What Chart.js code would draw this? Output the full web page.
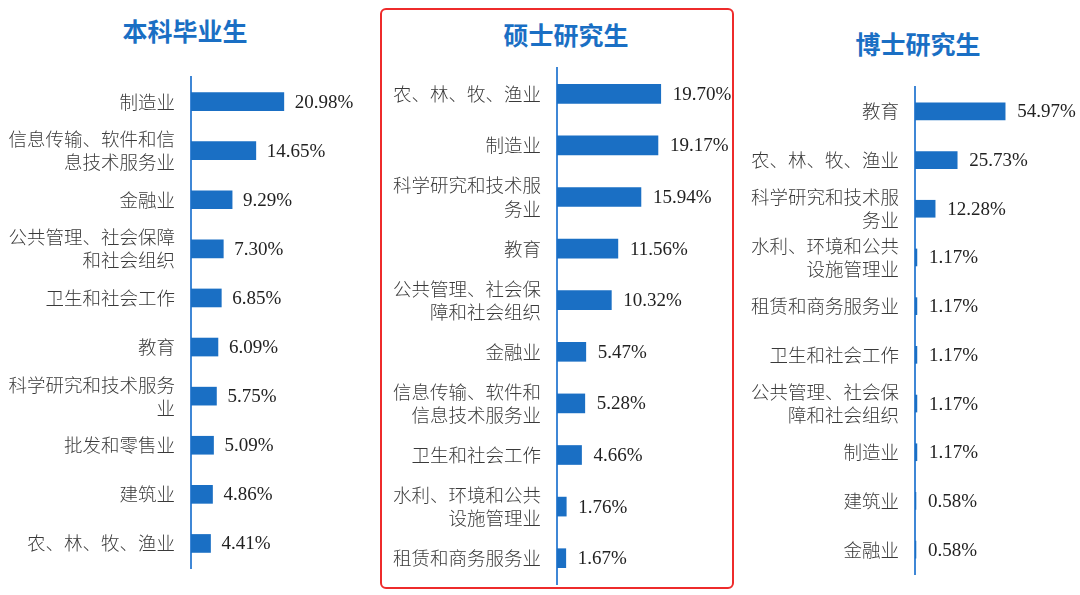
<!DOCTYPE html>
<html>
<head>
<meta charset="utf-8">
<script src="https://cdn.jsdelivr.net/npm/chart.js@4"></script>
<style>
    body { margin: 0; background: #fff; width: 1080px; height: 595px; position: relative; overflow: hidden; }
    .panel { position: absolute; top: 0; height: 640px; }
    .title { position: absolute; width: 200px; margin-left: -100px; text-align: center;
             font: bold 25px "Noto Sans CJK SC", sans-serif; color: #1a6fc4; line-height: 30px; }
    .frame { position: absolute; left: 380px; top: 8px; width: 350px; height: 577px;
             border: 2px solid #ee2b2b; border-radius: 6px; }
</style>
</head>
<body>
<div class="frame"></div>
<div class="title" style="left:185px; top:15px;">本科毕业生</div>
<div class="title" style="left:566px; top:19px;">硕士研究生</div>
<div class="title" style="left:918px; top:28px;">博士研究生</div>
<div class="panel" style="left:0; width:370px;"><canvas id="bachelorChart"></canvas></div>
<div class="panel" style="left:383px; width:350px;"><canvas id="masterChart"></canvas></div>
<div class="panel" style="left:740px; width:340px;"><canvas id="doctorChart"></canvas></div>
<script>
// 本科毕业生
const bachelorLabels = [
    '制造业',
    ['信息传输、软件和信', '息技术服务业'],
    '金融业',
    ['公共管理、社会保障', '和社会组织'],
    '卫生和社会工作',
    '教育',
    ['科学研究和技术服务', '业'],
    '批发和零售业',
    '建筑业',
    '农、林、牧、渔业'
];
const bachelorValues = [20.98, 14.65, 9.29, 7.30, 6.85, 6.09, 5.75, 5.09, 4.86, 4.41];

// 硕士研究生
const masterLabels = [
    '农、林、牧、渔业',
    '制造业',
    ['科学研究和技术服', '务业'],
    '教育',
    ['公共管理、社会保', '障和社会组织'],
    '金融业',
    ['信息传输、软件和', '信息技术服务业'],
    '卫生和社会工作',
    ['水利、环境和公共', '设施管理业'],
    '租赁和商务服务业'
];
const masterValues = [19.70, 19.17, 15.94, 11.56, 10.32, 5.47, 5.28, 4.66, 1.76, 1.67];

// 博士研究生
const doctorLabels = [
    '教育',
    '农、林、牧、渔业',
    ['科学研究和技术服', '务业'],
    ['水利、环境和公共', '设施管理业'],
    '租赁和商务服务业',
    '卫生和社会工作',
    ['公共管理、社会保', '障和社会组织'],
    '制造业',
    '建筑业',
    '金融业'
];
const doctorValues = [54.97, 25.73, 12.28, 1.17, 1.17, 1.17, 1.17, 1.17, 0.58, 0.58];

const BAR_COLOR = '#1a6fc4';

// Draw "xx.xx%" right of each bar
const valueLabels = {
    id: 'valueLabels',
    afterDatasetsDraw(chart, args, pluginOpts) {
        const ctx = chart.ctx;
        const meta = chart.getDatasetMeta(0);
        const data = chart.data.datasets[0].data;
        ctx.save();
        ctx.font = '19px "Liberation Serif", "Times New Roman", serif';
        ctx.fillStyle = '#222';
        ctx.textAlign = 'left';
        ctx.textBaseline = 'middle';
        meta.data.forEach((bar, i) => {
            ctx.fillText(data[i].toFixed(2) + '%', bar.x + pluginOpts.offset, bar.y + 1);
        });
        ctx.restore();
    }
};

function makeChart(canvasId, labels, values, opts) {
    const ctx = document.getElementById(canvasId).getContext('2d');
    return new Chart(ctx, {
        type: 'bar',
        data: {
            labels: labels,
            datasets: [{
                data: values,
                backgroundColor: BAR_COLOR,
                barThickness: opts.barThickness
            }]
        },
        options: {
            indexAxis: 'y',
            responsive: true,
            maintainAspectRatio: false,
            animation: false,
            layout: {
                padding: { top: opts.top, bottom: 640 - opts.bottomY, left: 0, right: opts.right }
            },
            plugins: {
                legend: { display: false },
                tooltip: { enabled: false },
                valueLabels: { offset: opts.labelOffset }
            },
            scales: {
                x: {
                    display: false,
                    min: 0,
                    max: opts.max
                },
                y: {
                    grid: { display: false, drawTicks: false },
                    border: { display: true, color: '#3f87d6', width: 2 },
                    ticks: {
                        autoSkip: false,
                        padding: 16,
                        color: '#3a3a3a',
                        font: { family: '"Noto Sans CJK SC", sans-serif', size: 18.5, weight: 300, lineHeight: 1.25 }
                    },
                    afterFit: (scale) => { scale.width = opts.axisWidth; }
                }
            }
        },
        plugins: [valueLabels]
    });
}

makeChart('bachelorChart', bachelorLabels, bachelorValues,
    { max: 40, top: 77, bottomY: 568, right: 2, axisWidth: 191, barThickness: 18, labelOffset: 11 });
makeChart('masterChart', masterLabels, masterValues,
    { max: 30, top: 68, bottomY: 584, right: 18, axisWidth: 174, barThickness: 19, labelOffset: 12 });
makeChart('doctorChart', doctorLabels, doctorValues,
    { max: 100, top: 87, bottomY: 574, right: 1, axisWidth: 175, barThickness: 17, labelOffset: 12 });
</script>
</body>
</html>
